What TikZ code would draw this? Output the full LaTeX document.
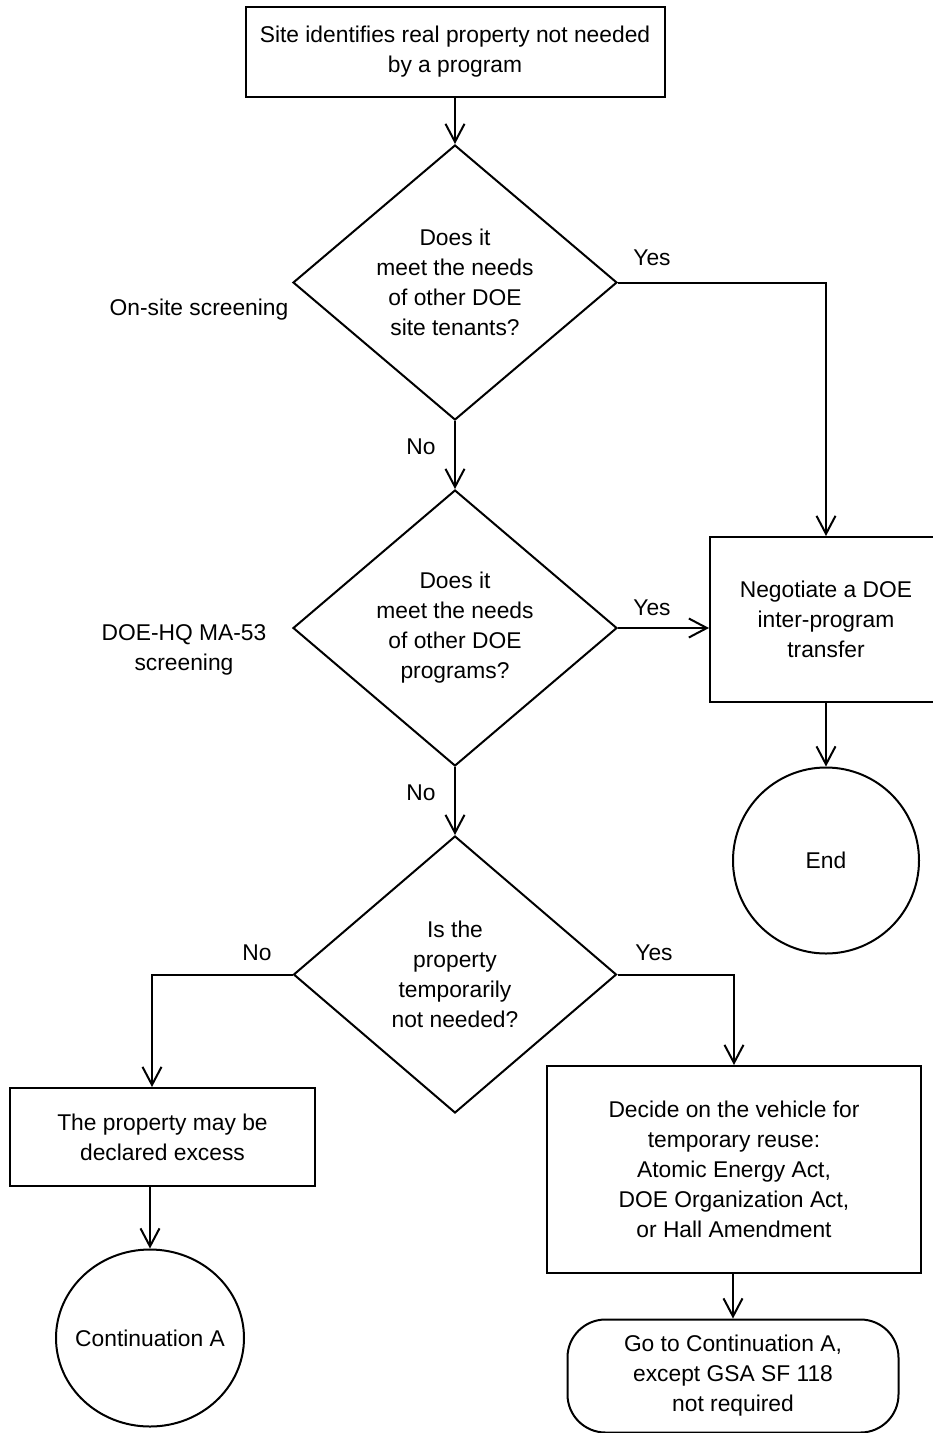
\documentclass[tikz,border=0pt]{standalone}
\usepackage{fontspec}
\setmainfont{Liberation Sans}
\usetikzlibrary{shapes.geometric,arrows.meta}
\begin{document}
\begin{tikzpicture}[x=1pt,y=-1pt,
  every node/.style={font=\fontsize{22.8}{30}\selectfont, align=center, inner sep=0pt},
  box/.style={draw, line width=2pt, rectangle},
  dec/.style={draw, line width=2pt, diamond, aspect=1.18},
  term/.style={draw, line width=2pt, circle},
  flow/.style={line width=2pt, -{Straight Barb[length=18pt,width=19pt]}}
]
\useasboundingbox (0,0) rectangle (933,1433);

% nodes
\node[box, minimum width=419pt, minimum height=90pt] (top) at (455,52)
  {Site identifies real property not needed\\by a program};
\node[dec, minimum width=324pt, minimum height=275pt] (d1) at (455,282.5)
  {Does it\\meet the needs\\of other DOE\\site tenants?};
\node[dec, minimum width=324pt, minimum height=276pt] (d2) at (455,628)
  {Does it\\meet the needs\\of other DOE\\programs?};
\node[dec, minimum width=323pt, minimum height=277pt] (d3) at (455,974.5)
  {Is the\\property\\temporarily\\not needed?};
\node[box, minimum width=232pt, minimum height=165pt] (neg) at (826,619.5)
  {Negotiate a DOE\\inter-program\\transfer};
\node[term, minimum size=186pt] (end) at (826,860.5) {End};
\node[box, minimum width=305pt, minimum height=98pt] (excess) at (162.5,1137)
  {The property may be\\declared excess};
\node[draw, line width=2pt, ellipse, minimum width=188pt, minimum height=177pt] (contA) at (150,1338)
  {\makebox[100pt]{Continuation A}};
\node[box, minimum width=374pt, minimum height=207pt] (decide) at (734,1169.5)
  {Decide on the vehicle for\\temporary reuse:\\Atomic Energy Act,\\DOE Organization Act,\\or Hall Amendment};
\node[box, rounded corners=38pt, minimum width=331pt, minimum height=113pt] (goto) at (733,1376)
  {Go to Continuation A,\\except GSA SF 118\\not required};

% side labels
\node (lOn) at (199,310) {On-site screening};
\node (lHQ) at (184,650) {DOE-HQ MA-53\\screening};
\node (y1) at (652,258) {Yes};
\node (n1) at (421,447) {No};
\node (y2) at (652,608) {Yes};
\node (n2) at (421,793) {No};
\node (n3) at (257,953) {No};
\node (y3) at (654,953) {Yes};

% bend points
\coordinate (c1) at (826,282.5);
\coordinate (c3l) at (152,974.5);
\coordinate (c3r) at (734,974.5);

% connectors
\draw[flow] (top.south) -- (d1.north);
\draw[flow] (d1.east) -- (c1) -- (c1 |- neg.north);
\draw[flow] (d1.south) -- (d2.north);
\draw[flow] (d2.east) -- (d2.east -| neg.west);
\draw[flow] (d2.south) -- (d3.north);
\draw[flow] (neg.south) -- (end.north);
\draw[flow] (d3.west) -- (c3l) -- (c3l |- excess.north);
\draw[flow] (d3.east) -- (c3r) -- (c3r |- decide.north);
\draw[flow] (contA.north |- excess.south) -- (contA.north);
\draw[flow] (goto.north |- decide.south) -- (goto.north);
\end{tikzpicture}
\end{document}
